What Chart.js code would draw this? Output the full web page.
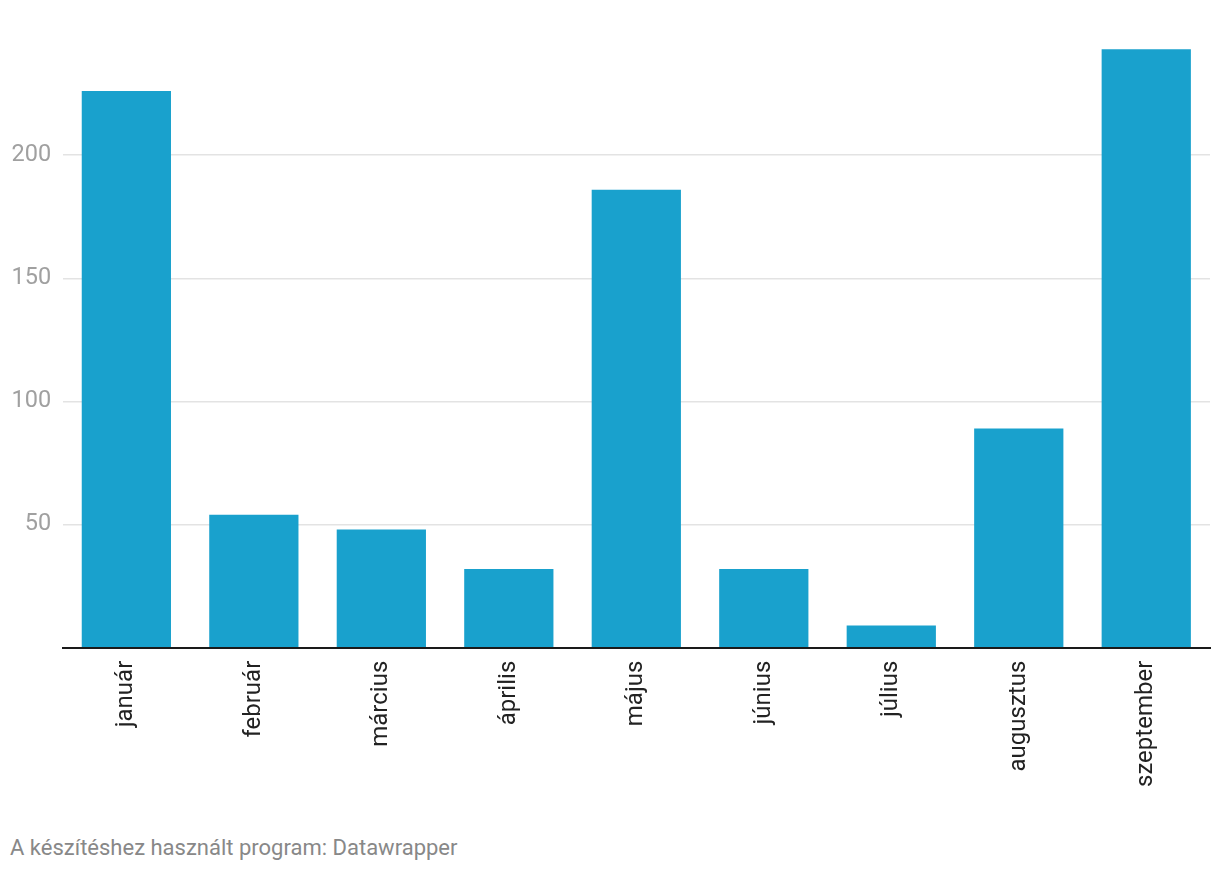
<!DOCTYPE html>
<html>
<head>
<meta charset="utf-8">
<script src="https://cdn.jsdelivr.net/npm/chart.js@4"></script>
<style>
  body { margin: 0; background: #fff; font-family: Roboto, sans-serif; }
  #wrap { position: absolute; left: 0; top: 0; width: 1220px; height: 810px; }
  #note { position: absolute; left: 10px; top: 835px; font-size: 22px; color: #888; }
</style>
</head>
<body>
<div id="wrap"><canvas id="chart"></canvas></div>
<div id="note">A készítéshez használt program: Datawrapper</div>
<script>
// adatok
var honapok = ['január', 'február', 'március', 'április', 'május', 'június', 'július', 'augusztus', 'szeptember'];
var ertekek = [226, 54, 48, 32, 186, 32, 9, 89, 243];
var yTicks = [0, 50, 100, 150, 200, 250];

var context = document.getElementById('chart').getContext('2d');
var myChart = new Chart(context, {
  type: 'bar',
  data: {
    labels: honapok,
    datasets: [{
      data: ertekek,
      backgroundColor: '#19a1cd',
      categoryPercentage: 1,
      barPercentage: 0.7
    }]
  },
  options: {
    responsive: true,
    maintainAspectRatio: false,
    animation: false,
    layout: { padding: { top: 32, right: 10, left: 0, bottom: 18 } },
    plugins: { legend: { display: false }, tooltip: { enabled: false } },
    scales: {
      x: {
        grid: { display: false },
        border: { color: '#1a1a1a', width: 2 },
        ticks: {
          color: '#222',
          font: { family: 'Roboto', size: 24 },
          minRotation: 90,
          maxRotation: 90,
          padding: 5
        }
      },
      y: {
        min: 0,
        max: 250,
        afterBuildTicks: function(axis) {
          axis.ticks = yTicks.map(function(v) { return { value: v }; });
        },
        border: { display: false },
        grid: {
          drawTicks: false,
          lineWidth: 1.5,
          color: function(c) {
            var v = c.tick ? c.tick.value : 0;
            return (v === 0 || v === 250) ? 'rgba(0,0,0,0)' : '#e3e3e3';
          }
        },
        ticks: {
          color: '#a0a0a0',
          font: { family: 'Roboto', size: 23.5 },
          padding: 11.5,
          callback: function(v) { return (v === 0 || v === 250) ? '' : v; }
        }
      }
    }
  }
});
</script>
</body>
</html>
